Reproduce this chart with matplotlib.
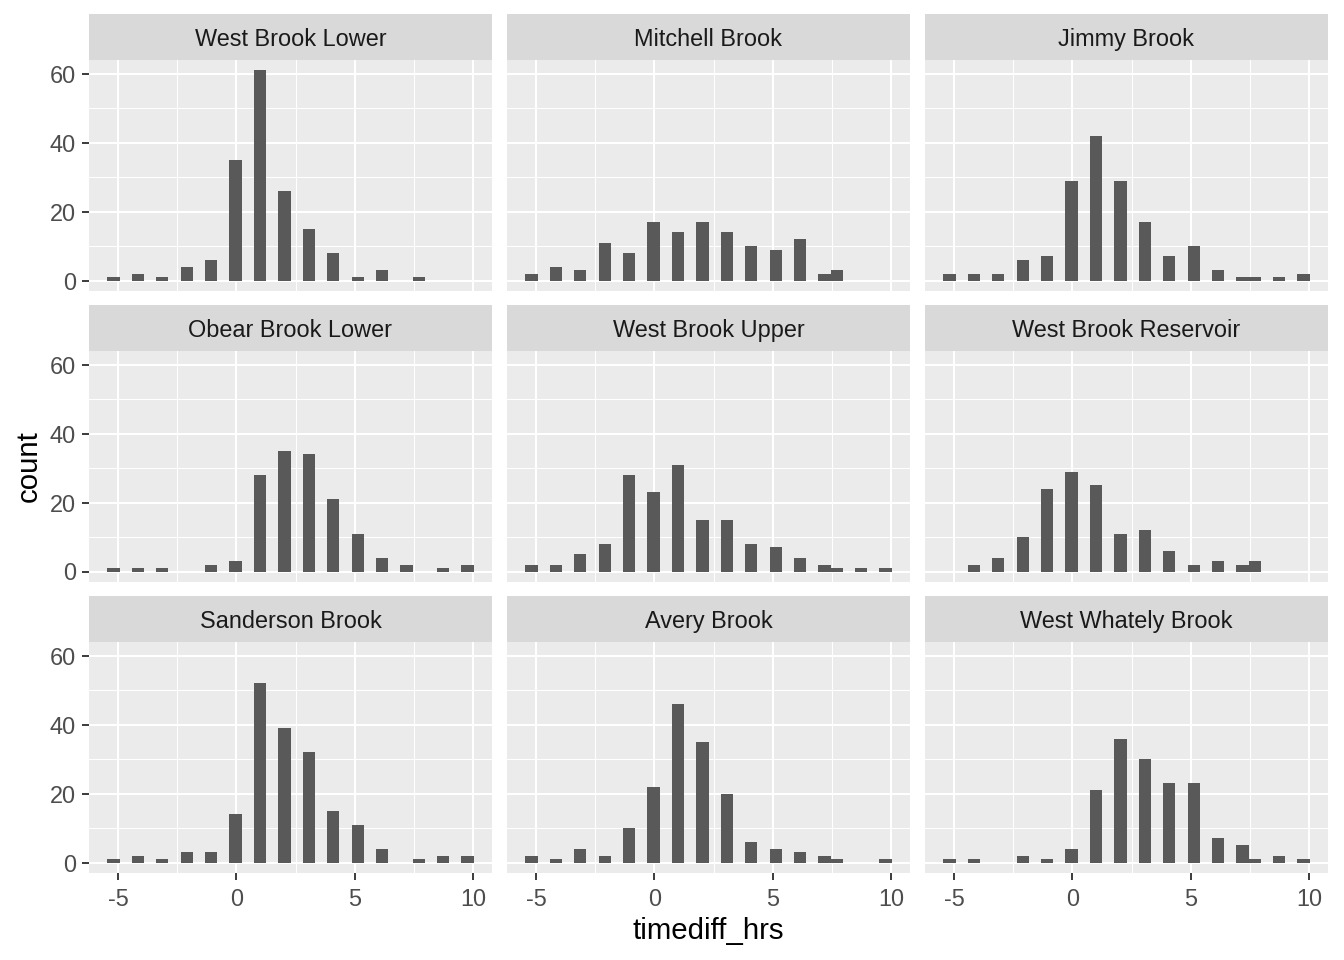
import numpy as np
import matplotlib
matplotlib.use("Agg")
import matplotlib.pyplot as plt

# ---------------- data ----------------
sites = ["West Brook Lower", "Mitchell Brook", "Jimmy Brook",
         "Obear Brook Lower", "West Brook Upper", "West Brook Reservoir",
         "Sanderson Brook", "Avery Brook", "West Whately Brook"]

# histogram bins (30 bins shared by all facets)
bin_min = -5.2
binwidth = 0.516
n_bins = 30

# counts per bin index (0..29)
west_brook_lower = {0: 1, 2: 2, 4: 1, 6: 4, 8: 6, 10: 35, 12: 61, 14: 26, 16: 15,
                    18: 8, 20: 1, 22: 3, 25: 1}
mitchell_brook = {0: 2, 2: 4, 4: 3, 6: 11, 8: 8, 10: 17, 12: 14, 14: 17, 16: 14,
                  18: 10, 20: 9, 22: 12, 24: 2, 25: 3}
jimmy_brook = {0: 2, 2: 2, 4: 2, 6: 6, 8: 7, 10: 29, 12: 42, 14: 29, 16: 17,
               18: 7, 20: 10, 22: 3, 24: 1, 25: 1, 27: 1, 29: 2}
obear_brook_lower = {0: 1, 2: 1, 4: 1, 8: 2, 10: 3, 12: 28, 14: 35, 16: 34,
                     18: 21, 20: 11, 22: 4, 24: 2, 27: 1, 29: 2}
west_brook_upper = {0: 2, 2: 2, 4: 5, 6: 8, 8: 28, 10: 23, 12: 31, 14: 15, 16: 15,
                    18: 8, 20: 7, 22: 4, 24: 2, 25: 1, 27: 1, 29: 1}
west_brook_reservoir = {2: 2, 4: 4, 6: 10, 8: 24, 10: 29, 12: 25, 14: 11, 16: 12,
                        18: 6, 20: 2, 22: 3, 24: 2, 25: 3}
sanderson_brook = {0: 1, 2: 2, 4: 1, 6: 3, 8: 3, 10: 14, 12: 52, 14: 39, 16: 32,
                   18: 15, 20: 11, 22: 4, 25: 1, 27: 2, 29: 2}
avery_brook = {0: 2, 2: 1, 4: 4, 6: 2, 8: 10, 10: 22, 12: 46, 14: 35, 16: 20,
               18: 6, 20: 4, 22: 3, 24: 2, 25: 1, 29: 1}
west_whately_brook = {0: 1, 2: 1, 6: 2, 8: 1, 10: 4, 12: 21, 14: 36, 16: 30,
                      18: 23, 20: 23, 22: 7, 24: 5, 25: 1, 27: 2, 29: 1}

site_counts = [west_brook_lower, mitchell_brook, jimmy_brook,
               obear_brook_lower, west_brook_upper, west_brook_reservoir,
               sanderson_brook, avery_brook, west_whately_brook]

x_ticks = [-5, 0, 5, 10]
x_minor = [-2.5, 2.5, 7.5]
y_ticks = [0, 20, 40, 60]
y_minor = [10, 30, 50]

# ---------------- style / layout ----------------
plt.rcParams['font.family'] = ['Liberation Sans', 'DejaVu Sans']

W, H = 1344, 960
fig = plt.figure(figsize=(7, 5), dpi=192)
fig.patch.set_facecolor('white')

col_left = [89, 507, 925]
row_top = [14, 305, 596]
strip_h = 46
panel_w = 403
panel_h = 231

bin_centers = bin_min + binwidth * np.arange(n_bins)
edge_lo = bin_centers[0] - binwidth / 2
edge_hi = bin_centers[-1] + binwidth / 2
xr = edge_hi - edge_lo
xlim = (edge_lo - 0.05 * xr, edge_hi + 0.05 * xr)
ymax = max(max(d.values()) for d in site_counts)
ylim = (-0.05 * ymax, ymax * 1.05)

for i, (name, cdict) in enumerate(zip(sites, site_counts)):
    r, c = divmod(i, 3)
    left = col_left[c] / W
    top = row_top[r]
    ax = fig.add_axes([left, 1 - (top + strip_h + panel_h) / H,
                       panel_w / W, panel_h / H])
    ax.set_facecolor('#EBEBEB')
    counts = np.zeros(n_bins)
    for k, v in cdict.items():
        counts[k] = v
    mask = counts > 0
    ax.bar(bin_centers[mask], counts[mask], width=binwidth,
           color='#595959', zorder=3, linewidth=0)
    ax.set_xlim(*xlim)
    ax.set_ylim(*ylim)
    ax.set_xticks(x_ticks)
    ax.set_xticks(x_minor, minor=True)
    ax.set_yticks(y_ticks)
    ax.set_yticks(y_minor, minor=True)
    ax.grid(which='major', color='white', linewidth=0.75, zorder=1)
    ax.grid(which='minor', color='white', linewidth=0.4, zorder=1)
    ax.set_axisbelow(True)
    for s in ax.spines.values():
        s.set_visible(False)
    ax.tick_params(which='minor', length=0)
    ax.tick_params(which='major', length=2.75, width=0.7, color='#333333',
                   labelsize=8.8, labelcolor='#4D4D4D', pad=2.2)
    ax.tick_params(axis='x', which='major', pad=3.0)
    if c != 0:
        ax.tick_params(axis='y', which='major', length=0, labelleft=False)
    else:
        ax.set_yticklabels([str(t) for t in y_ticks])
    if r != 2:
        ax.tick_params(axis='x', which='major', length=0, labelbottom=False)
    else:
        ax.set_xticklabels([str(t) for t in x_ticks])

    sax = fig.add_axes([left, 1 - (top + strip_h) / H, panel_w / W, strip_h / H])
    sax.set_facecolor('#D9D9D9')
    sax.set_xticks([])
    sax.set_yticks([])
    for s in sax.spines.values():
        s.set_visible(False)
    sax.text(0.5, 0.45, name, ha='center', va='center', fontsize=8.8,
             color='#1A1A1A', transform=sax.transAxes)

fig.text(29 / W, 1 - 466.5 / H, 'count', rotation=90, ha='center',
         va='center', fontsize=11, color='black')
fig.text(708.5 / W, 1 - 931 / H, 'timediff_hrs', ha='center', va='center',
         fontsize=11, color='black')

fig.savefig('out.png', dpi=192)
